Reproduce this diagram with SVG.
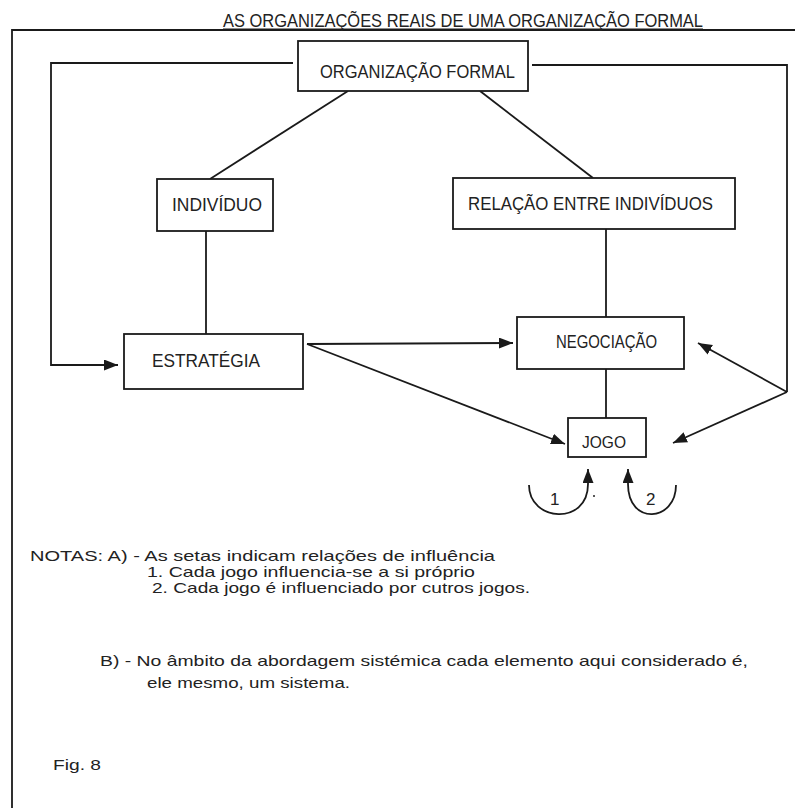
<svg xmlns="http://www.w3.org/2000/svg" width="795" height="808" viewBox="0 0 795 808">
<defs>
<marker id="ah" markerUnits="userSpaceOnUse" markerWidth="16" markerHeight="12" refX="14" refY="5.5" orient="auto">
<path d="M0,0 L14,5.5 L0,11 z" fill="#1a1a1a"/>
</marker>
</defs>
<style>
text{font-family:"Liberation Sans","DejaVu Sans",sans-serif;fill:#222}
.box{fill:#fff;stroke:#1a1a1a;stroke-width:1.8}
.c{fill:none;stroke:#1a1a1a;stroke-width:1.8}
.bt{font-size:19px}
.nt{font-size:15px}
</style>
<rect width="795" height="808" fill="#fff"/>
<g id="frame">
<path class="c" d="M795,30 L12,30 L12,808" stroke-width="2"/>
<text x="223" y="27" font-size="18.5" textLength="480" lengthAdjust="spacingAndGlyphs">AS ORGANIZAÇÕES REAIS DE UMA ORGANIZAÇÃO FORMAL</text>
<line x1="223" y1="29" x2="703" y2="29" stroke="#1a1a1a" stroke-width="1.2"/>
</g>
<g id="connectors">
<polyline class="c" points="293,63 51,63 51,365 118,365" marker-end="url(#ah)"/>
<polyline class="c" points="532,65 787,65 787,392"/>
<line class="c" x1="787" y1="392" x2="698" y2="343" marker-end="url(#ah)"/>
<line class="c" x1="787" y1="392" x2="673" y2="443" marker-end="url(#ah)"/>
<line class="c" x1="348" y1="91" x2="210" y2="179"/>
<line class="c" x1="480" y1="91" x2="593" y2="178"/>
<line class="c" x1="206" y1="231" x2="206" y2="334"/>
<line class="c" x1="606" y1="229" x2="606" y2="317"/>
<line class="c" x1="606" y1="369" x2="606" y2="418"/>
<line class="c" x1="307" y1="344" x2="513" y2="343" marker-end="url(#ah)"/>
<line class="c" x1="307" y1="344" x2="565" y2="444" marker-end="url(#ah)"/>
<path class="c" d="M529,485 C529,522 588,526 588,484 L588,469" marker-end="url(#ah)"/>
<path class="c" d="M676,485 C676,522 628,526 628,484 L628,469" marker-end="url(#ah)"/>
<text x="550" y="505" font-size="17">1</text>
<circle cx="594" cy="496" r="1" fill="#222"/>
<text x="646" y="505" font-size="17">2</text>
</g>
<g id="org_formal">
<rect class="box" x="298" y="41" width="230" height="50"/>
<text class="bt" x="320" y="78" textLength="195" lengthAdjust="spacingAndGlyphs">ORGANIZAÇÃO FORMAL</text>
</g>
<g id="individuo">
<rect class="box" x="157" y="179" width="116" height="52"/>
<text class="bt" x="172" y="211" textLength="90" lengthAdjust="spacingAndGlyphs">INDIVÍDUO</text>
</g>
<g id="relacao">
<rect class="box" x="453" y="178" width="282" height="51"/>
<text class="bt" x="468" y="210" textLength="245" lengthAdjust="spacingAndGlyphs">RELAÇÃO ENTRE INDIVÍDUOS</text>
</g>
<g id="estrategia">
<rect class="box" x="124" y="334" width="179" height="55"/>
<text class="bt" x="152" y="367" textLength="108" lengthAdjust="spacingAndGlyphs">ESTRATÉGIA</text>
</g>
<g id="negociacao">
<rect class="box" x="517" y="317" width="167" height="52"/>
<text class="bt" x="556" y="348" textLength="101" lengthAdjust="spacingAndGlyphs">NEGOCIAÇÃO</text>
</g>
<g id="jogo">
<rect class="box" x="568" y="418" width="78" height="39"/>
<text x="582" y="448" font-size="16" textLength="44" lengthAdjust="spacingAndGlyphs">JOGO</text>
</g>
<g id="notes">
<text class="nt" x="30" y="561" textLength="465" lengthAdjust="spacingAndGlyphs">NOTAS: A) - As setas indicam relações de influência</text>
<text class="nt" x="147" y="577" textLength="328" lengthAdjust="spacingAndGlyphs">1. Cada jogo influencia-se a si próprio</text>
<text class="nt" x="152" y="593" textLength="378" lengthAdjust="spacingAndGlyphs">2. Cada jogo é influenciado por cutros jogos.</text>
<text class="nt" x="100" y="666" font-size="16" textLength="648" lengthAdjust="spacingAndGlyphs">B) - No âmbito da abordagem sistémica cada elemento aqui considerado é,</text>
<text class="nt" x="147" y="688" font-size="16" textLength="203" lengthAdjust="spacingAndGlyphs">ele mesmo, um sistema.</text>
<text class="nt" x="53" y="770" font-size="16" textLength="48" lengthAdjust="spacingAndGlyphs">Fig. 8</text>
</g>
</svg>
